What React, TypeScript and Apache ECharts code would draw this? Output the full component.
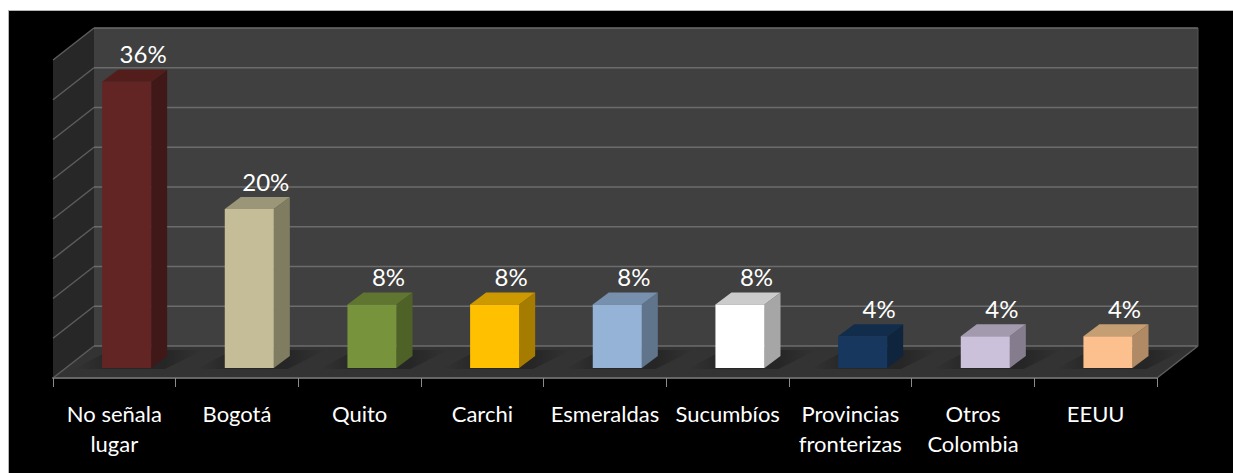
import React, { useEffect, useRef } from "react";
import * as echarts from "echarts";

const categories = ["No señala\nlugar", "Bogotá", "Quito", "Carchi", "Esmeraldas", "Sucumbíos", "Provincias\nfronterizas", "Otros\nColombia", "EEUU"];
const values = [36, 20, 8, 8, 8, 8, 4, 4, 4];
const frontColors = ["#632523", "#c4bd97", "#77933c", "#ffc000", "#95b3d7", "#ffffff", "#17375e", "#ccc1da", "#fcc08f"];
const sideColors = ["#3f1817", "#7f7c61", "#4e6127", "#a67c00", "#60748c", "#a6a6a6", "#0f243d", "#857d8e", "#b08a64"];
const topColors = ["#521d1b", "#9c9678", "#5f7530", "#cc9a00", "#7790ad", "#cccccc", "#122c4b", "#a39aae", "#c69e74"];
const gridTicks = [0, 5, 10, 15, 20, 25, 30, 35, 40];

const FONT = "Lato";
const DEPTH_X = 41;
const DEPTH_Y = 32;
const BASE_X = 12.3;
const BASE_Y = 10;
const BAR_DX = 16;
const BAR_DY = 12;

const poly = (points: number[][], fill: any, z2 = 0) => ({
  type: "polygon",
  z2,
  shape: { points },
  style: { fill, stroke: null },
});

const line = (x1: number, y1: number, x2: number, y2: number, stroke: string, lineWidth = 1.5) => ({
  type: "line",
  shape: { x1, y1, x2, y2 },
  style: { stroke, lineWidth },
});

function renderWalls(params: any, api: any) {
  const c = params.coordSys;
  const x0 = c.x;
  const x1 = c.x + c.width;
  const base = api.coord([0, 0])[1];
  const top = api.coord([0, 40])[1];
  const children: any[] = [
    poly([[x0 + DEPTH_X, top - DEPTH_Y], [x1 + DEPTH_X, top - DEPTH_Y], [x1 + DEPTH_X, base - DEPTH_Y], [x0 + DEPTH_X, base - DEPTH_Y]], "#404040"),
    poly([[x0, top], [x0 + DEPTH_X, top - DEPTH_Y], [x0 + DEPTH_X, base - DEPTH_Y], [x0, base]], "#272727"),
    poly([[x0, base], [x0 + DEPTH_X, base - DEPTH_Y], [x1 + DEPTH_X, base - DEPTH_Y], [x1, base]], "#333333"),
  ];
  gridTicks.forEach((t) => {
    const y = api.coord([0, t])[1];
    children.push(line(x0 + DEPTH_X, y - DEPTH_Y, x1 + DEPTH_X, y - DEPTH_Y, "#6c6c6c"));
    children.push(line(x0, y, x0 + DEPTH_X, y - DEPTH_Y, "#5c5c5c"));
  });
  children.push(line(x1 + DEPTH_X, top - DEPTH_Y, x1 + DEPTH_X, base - DEPTH_Y, "#565656", 1));
  children.push(line(x1, base, x1 + DEPTH_X, base - DEPTH_Y, "#5c5c5c"));
  return { type: "group", children };
}

function renderBar(params: any, api: any) {
  const i = api.value(0);
  const v = api.value(1);
  const [cx, yTop] = api.coord([i, v]);
  const yBase = api.coord([i, 0])[1];
  const w = api.size([1, 0])[0] * 0.4;
  const l = cx - w / 2 + BASE_X;
  const r = l + w;
  const t = yTop - BASE_Y;
  const b = yBase - BASE_Y;
  const shadow = new echarts.graphic.LinearGradient(0, 0, 1, 0, [
    { offset: 0, color: "rgba(0,0,0,0)" },
    { offset: 0.25, color: "rgba(0,0,0,0.22)" },
    { offset: 0.7, color: "rgba(0,0,0,0.26)" },
    { offset: 1, color: "rgba(0,0,0,0)" },
  ]);
  return {
    type: "group",
    children: [
      poly([[l - 28, b + 1], [r + 14, b + 1], [r + 52, b - 18], [l + 8, b - 18]], shadow),
      poly([[r, t], [r + BAR_DX, t - BAR_DY], [r + BAR_DX, b - BAR_DY], [r, b]], sideColors[i]),
      poly([[l, t], [l + BAR_DX, t - BAR_DY], [r + BAR_DX, t - BAR_DY], [r, t]], topColors[i]),
      poly([[l, t], [r, t], [r, b], [l, b]], frontColors[i]),
      {
        type: "text",
        style: {
          x: cx + BASE_X + BAR_DX + 0.5,
          y: t - 28,
          text: `${v}%`,
          fill: "#ffffff",
          font: `24px ${FONT}`,
          align: "center",
          verticalAlign: "middle",
        },
      },
    ],
  };
}

export default function App() {
  const ref = useRef<HTMLDivElement>(null);
  useEffect(() => {
    const chart = echarts.init(ref.current!, undefined, { renderer: "svg" });
    chart.setOption({
      animation: false,
      backgroundColor: "#ffffff",
      graphic: [
        {
          type: "rect",
          z: -1,
          shape: { x: 8.5, y: 10.5, width: 1230, height: 470 },
          style: { fill: "#000000", stroke: "#b5b5b5", lineWidth: 1 },
        },
      ],
      grid: { left: 53, right: 76, top: 60, bottom: 95 },
      xAxis: {
        type: "category",
        data: categories,
        boundaryGap: true,
        axisLine: { show: true, lineStyle: { color: "#666666", width: 2 } },
        axisTick: { show: true, alignWithLabel: false, length: 9, lineStyle: { color: "#8a8a8a", width: 1 } },
        axisLabel: {
          interval: 0,
          hideOverlap: false,
          color: "#ffffff",
          fontFamily: FONT,
          fontSize: 22,
          lineHeight: 30,
          margin: 20,
        },
        splitLine: { show: false },
        z: 5,
      },
      yAxis: {
        type: "value",
        min: 0,
        max: 40,
        interval: 5,
        show: false,
        splitLine: { show: false },
      },
      series: [
        {
          type: "custom",
          z: 1,
          clip: false,
          silent: true,
          renderItem: renderWalls,
          data: [[0, 0]],
          encode: { x: 0, y: 1 },
        },
        {
          type: "custom",
          z: 3,
          clip: false,
          renderItem: renderBar,
          data: values.map((v, i) => [i, v]),
          encode: { x: 0, y: 1 },
        },
      ],
    });
    return () => chart.dispose();
  }, []);
  return (
    <div
      ref={ref}
      style={{ position: "fixed", left: 0, top: 0, width: 1233, height: 473, overflow: "hidden" }}
    />
  );
}
